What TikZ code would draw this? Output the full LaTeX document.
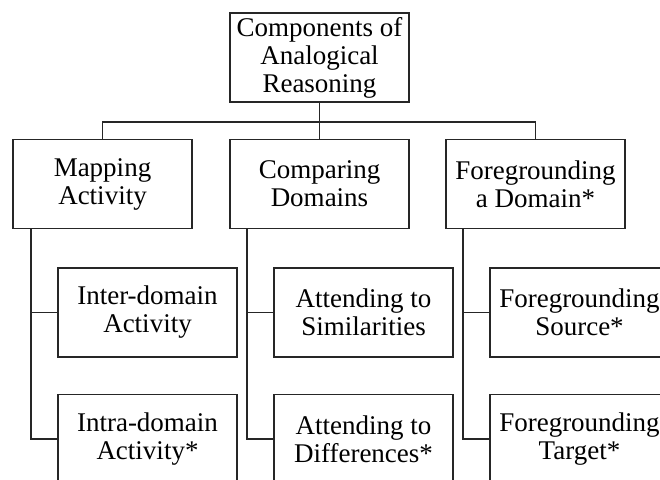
\documentclass[tikz,border=0pt]{standalone}
\usepackage{fontspec}
\setmainfont{Liberation Serif}

\begin{document}
\begin{tikzpicture}[x=0.5pt,y=-0.5pt, line width=0.95pt, draw=black!85,
  every node/.style={font=\fontsize{13.5}{14}\selectfont, align=center},
  box/.style={draw, minimum width=89.5pt, minimum height=44.5pt, inner sep=2pt}]

\clip (0,0) rectangle (660,480);

% Root
\node[box] (root) at (319.5,57.5) {Components of\\Analogical\\Reasoning};

% Level 1
\node[box] (map)  at (102.5,184) {Mapping\\Activity};
\node[box] (comp) at (319.5,184) {Comparing\\Domains};
\node[box] (fore) at (535.5,184) {Foregrounding\\a Domain*};

% Level 2
\node[box] (inter) at (147.5,312.5) {Inter-domain\\Activity};
\node[box] (intra) at (147.5,439)   {Intra-domain\\Activity*};
\node[box] (simil) at (363.5,312.5) {Attending to\\Similarities};
\node[box] (diffr) at (363.5,439)   {Attending to\\Differences*};
\node[box] (fsrc)  at (579.5,312.5) {Foregrounding\\Source*};
\node[box] (ftgt)  at (579.5,439)   {Foregrounding\\Target*};

% Root to level 1
\coordinate (bus) at (319.5,122);
\draw (root.south) -- (comp.north);
\draw (map.north) -- (map.north |- bus) -- (fore.north |- bus) -- (fore.north);

% Level 1 to level 2
\draw ([xshift=9.5pt]map.south west)  |- (inter.west);
\draw ([xshift=9.5pt]map.south west)  |- (intra.west);
\draw ([xshift=9pt]comp.south west)   |- (simil.west);
\draw ([xshift=9pt]comp.south west)   |- (diffr.west);
\draw ([xshift=9pt]fore.south west)   |- (fsrc.west);
\draw ([xshift=9pt]fore.south west)   |- (ftgt.west);

\end{tikzpicture}
\end{document}
